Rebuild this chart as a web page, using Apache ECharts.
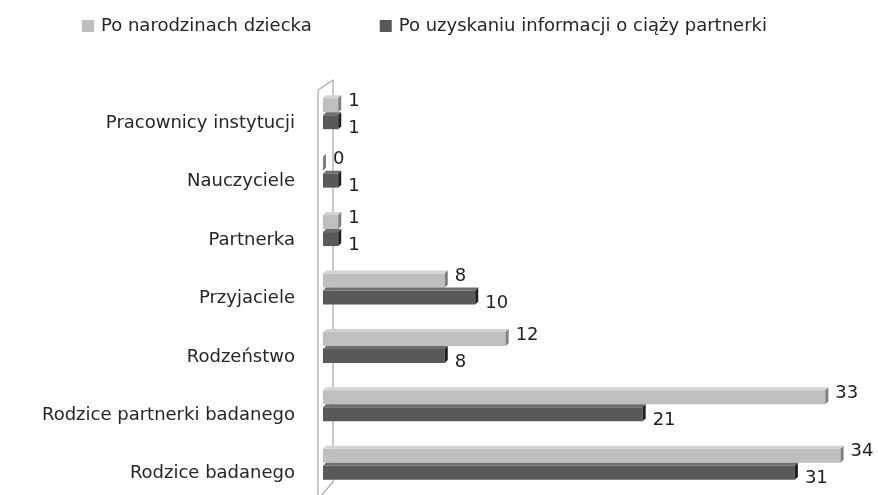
<!DOCTYPE html>
<html lang="pl">
<head>
<meta charset="UTF-8" />
<title>Wykres</title>
<script src="https://cdn.jsdelivr.net/npm/echarts@6/dist/echarts.min.js"></script>
<style>
  html, body { margin: 0; padding: 0; background: #fff; }
  #chart { width: 878px; height: 495px; }
</style>
</head>
<body>
<div id="chart"></div>
<script>
// kategorie od dołu do góry
var categories = ['Rodzice badanego', 'Rodzice partnerki badanego', 'Rodzeństwo', 'Przyjaciele', 'Partnerka', 'Nauczyciele', 'Pracownicy instytucji'];
var seriesNames = ['Po narodzinach dziecka', 'Po uzyskaniu informacji o ciąży partnerki'];
var afterBirth = [34, 33, 12, 8, 1, 0, 1];
var afterPregnancy = [31, 21, 8, 10, 1, 1, 1];

var chart = echarts.init(document.getElementById('chart'));

var FONT = 'DejaVu Sans';
var BAR_H = 14;   // wysokość przedniej ściany słupka
var DEPTH = 3;    // głębokość efektu 3D

// kolory: front, góra, bok
var palettes = [
  { front: '#bfbfbf', top: '#d4d4d4', side: '#7f7f7f' },
  { front: '#595959', top: '#6e6e6e', side: '#1f1f1f' }
];

function makeRender(idx) {
  var pal = palettes[idx];
  var shift = idx === 0 ? -9 : 8;
  return function (params, api) {
    var val = api.value(0);
    var start = api.coord([0, api.value(1)]);
    var end = api.coord([val, api.value(1)]);
    var x0 = start[0], x1 = end[0];
    var yc = start[1] + shift;
    var y0 = yc - BAR_H / 2, y1 = yc + BAR_H / 2;
    var w = Math.max(x1 - x0, 0);
    return {
      type: 'group',
      children: [
        { type: 'rect', shape: { x: x0, y: y0, width: w, height: BAR_H }, style: { fill: pal.front } },
        { type: 'polygon', shape: { points: [[x0, y0], [x0 + DEPTH, y0 - DEPTH], [x1 + DEPTH, y0 - DEPTH], [x1, y0]] }, style: { fill: pal.top } },
        { type: 'polygon', shape: { points: [[x1, y0], [x1 + DEPTH, y0 - DEPTH], [x1 + DEPTH, y1 - DEPTH], [x1, y1]] }, style: { fill: pal.side } },
        { type: 'text', x: x1 + DEPTH + 7, y: yc + (idx === 0 ? -4 : 6),
          style: { text: String(val), fill: '#222', font: '18px "' + FONT + '"', verticalAlign: 'middle', align: 'left' } }
      ]
    };
  };
}

function toData(arr) {
  return arr.map(function (v, i) { return [v, i]; });
}

var option = {
  animation: false,
  textStyle: { fontFamily: FONT },
  legend: {
    top: 12,
    left: 77,
    itemWidth: 12,
    itemHeight: 12,
    itemGap: 68,
    icon: 'rect',
    textStyle: { fontSize: 18, color: '#262626', fontFamily: FONT, padding: [0, 0, 0, 2] },
    data: [
      { name: seriesNames[0], itemStyle: { color: palettes[0].front } },
      { name: seriesNames[1], itemStyle: { color: palettes[1].front } }
    ]
  },
  grid: { left: 323, right: 7, top: 85, bottom: 1 },
  xAxis: {
    type: 'value', min: 0, max: 36,
    show: false
  },
  yAxis: {
    type: 'category',
    data: categories,
    axisLine: { show: false },
    axisTick: { show: false },
    axisLabel: { color: '#262626', fontSize: 18, fontFamily: FONT, margin: 28, verticalAlign: 'top', lineHeight: 18 }
  },
  graphic: [
    {
      type: 'polyline',
      silent: true,
      z: -1,
      shape: { points: [[318, 500], [318, 90], [333, 80], [333, 482], [320, 497]] },
      style: { stroke: '#a6a6a6', lineWidth: 1.2, fill: null }
    }
  ],
  series: [
    { name: seriesNames[0], type: 'custom', renderItem: makeRender(0), encode: { x: 0, y: 1 }, data: toData(afterBirth), itemStyle: { color: palettes[0].front } },
    { name: seriesNames[1], type: 'custom', renderItem: makeRender(1), encode: { x: 0, y: 1 }, data: toData(afterPregnancy), itemStyle: { color: palettes[1].front } }
  ]
};

chart.setOption(option);
</script>
</body>
</html>
